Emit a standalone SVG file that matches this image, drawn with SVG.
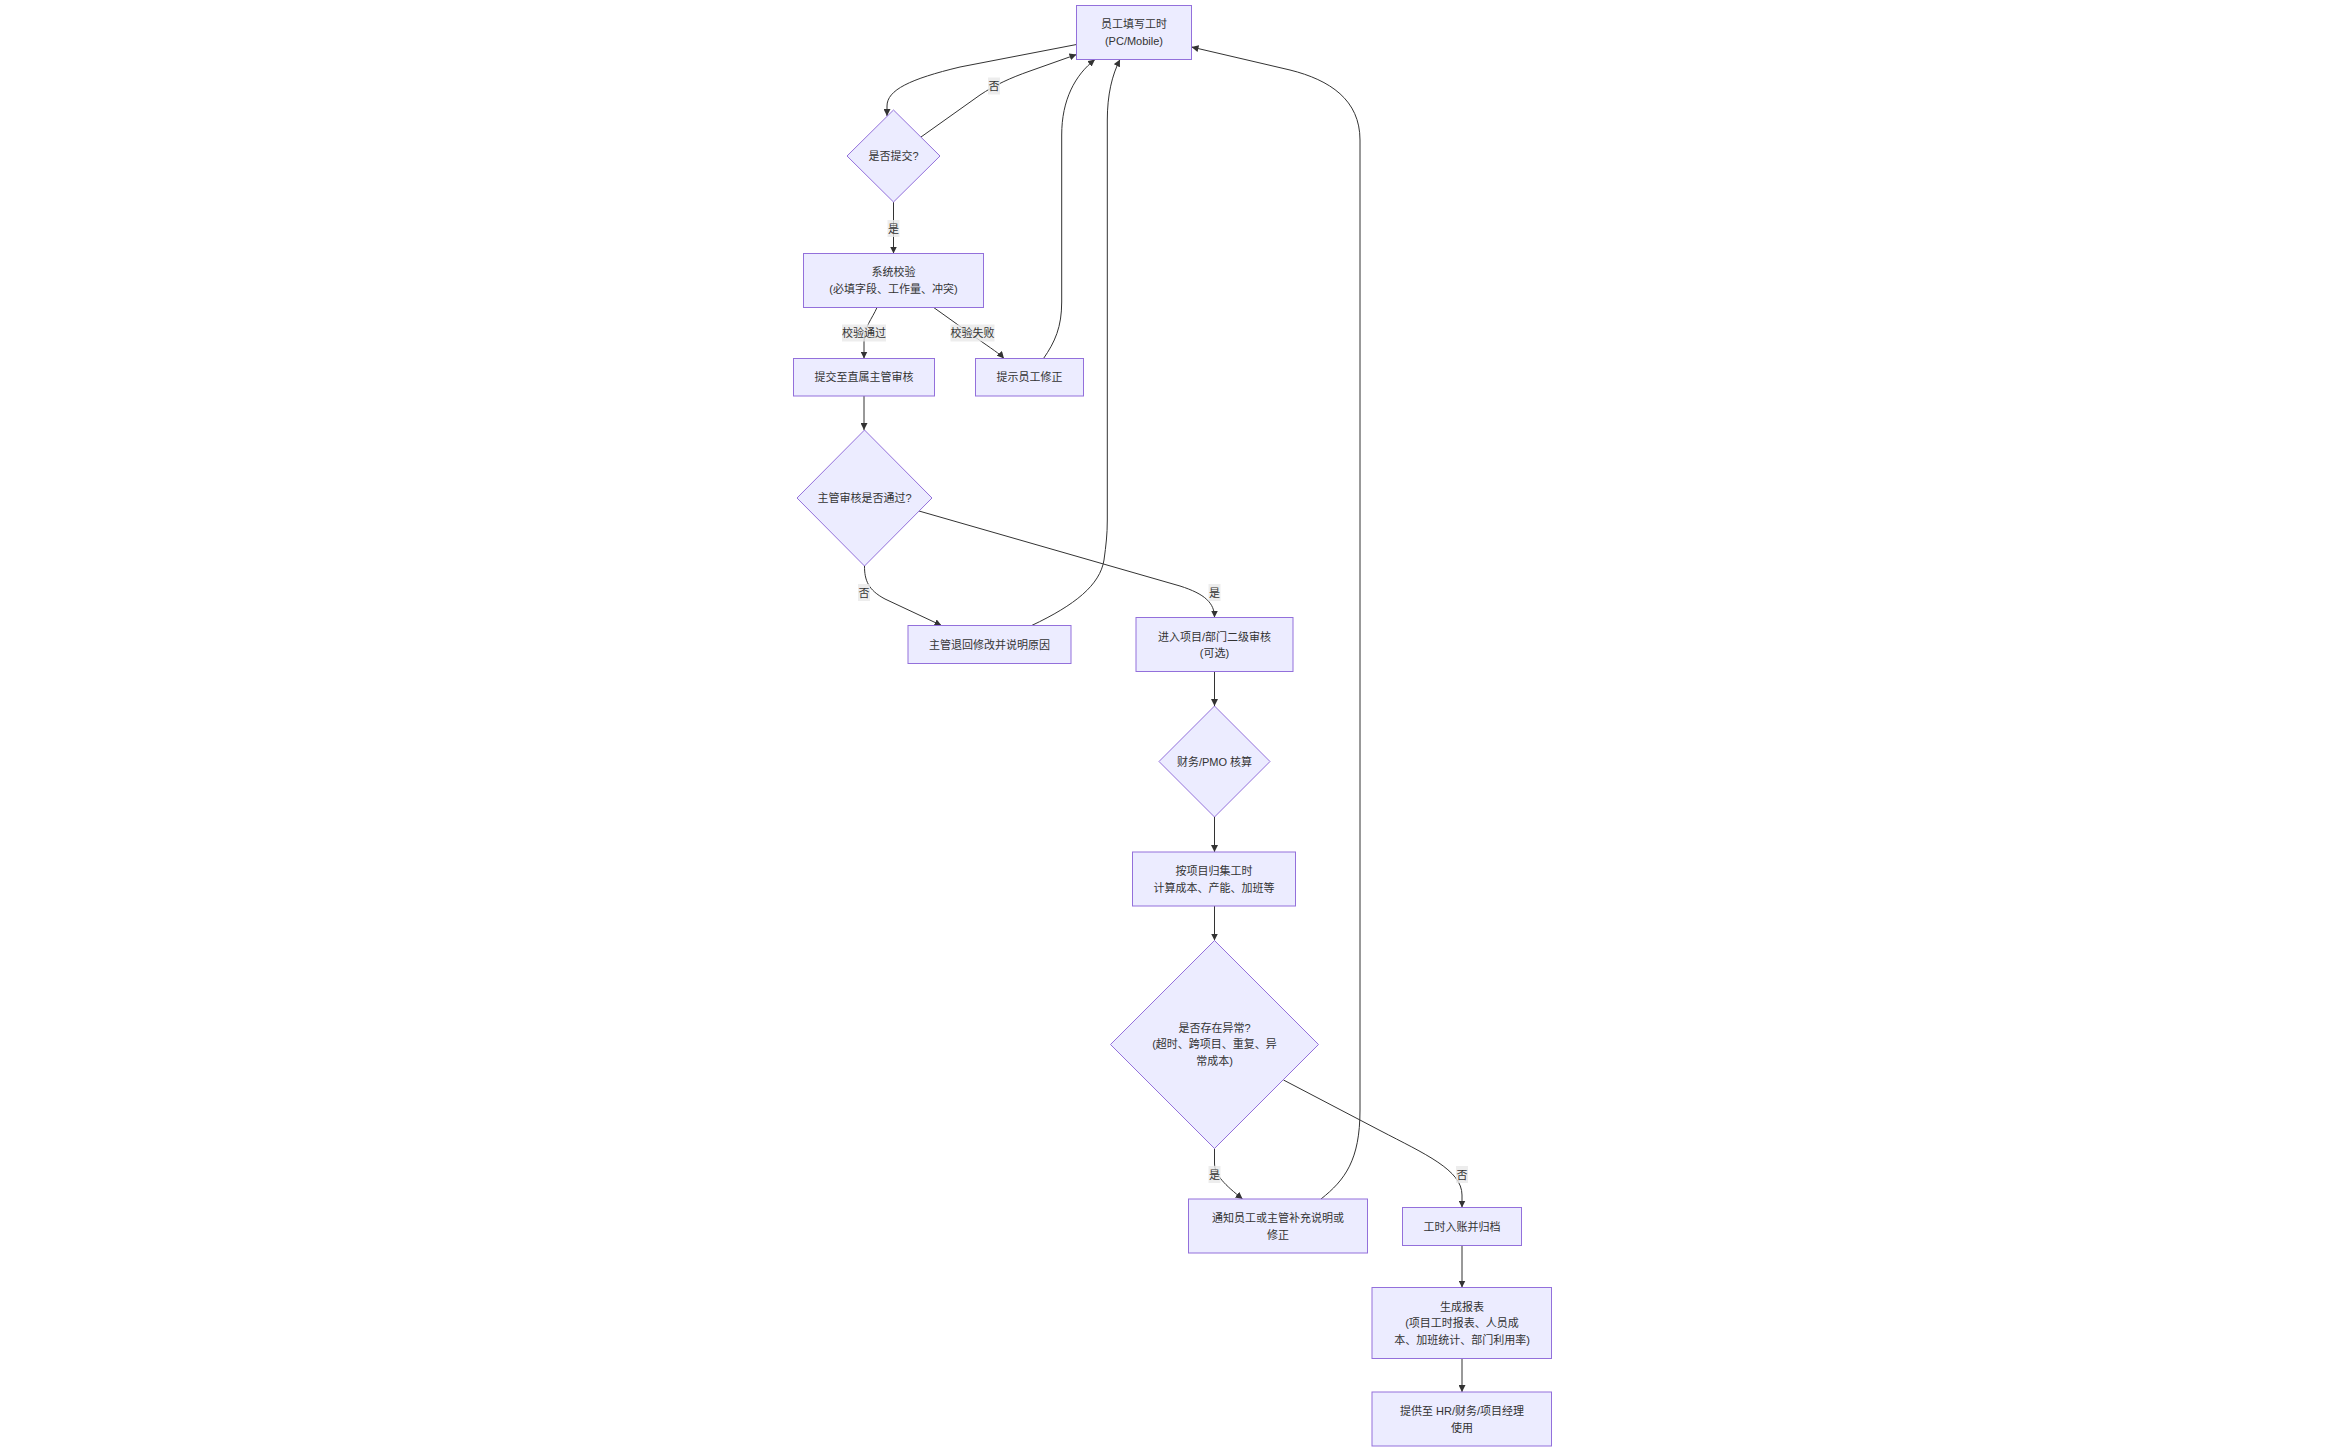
<svg xmlns="http://www.w3.org/2000/svg" width="2345" height="1452" viewBox="0 0 2345 1452">
<style>
.node rect,.node polygon{fill:#ECECFF;stroke:#9370DB;stroke-width:1}
text{font-family:"Liberation Sans","Noto Sans CJK SC",sans-serif;font-size:11px;fill:#333;text-anchor:middle}
.edge{fill:none;stroke:#333;stroke-width:1;marker-end:url(#arrow)}
.lbl rect{fill:#e8e8e8;opacity:0.8}
</style>
<defs>
<marker id="arrow" viewBox="0 0 10 10" refX="10" refY="5" markerUnits="userSpaceOnUse" markerWidth="7" markerHeight="7" orient="auto">
<path d="M0,0 L10,5 L0,10 z" fill="#333"/>
</marker>
</defs>
<rect width="2345" height="1452" fill="#fff"/>
<g id="edges">
<path class="edge" d="M1076.5,44.5 L960,67 C910,79 887,90 887,106 L887,116"/>
<path class="edge" d="M921,137 L980,95 C995,85 1010,78 1030,71 L1076.5,54.5"/>
<path class="edge" d="M893.5,202 L893.5,253.5"/>
<path class="edge" d="M877,307.5 C872,319 864,327 864,342 L864,358.5"/>
<path class="edge" d="M933.7,307.5 L975,337 C992,349 1000,354 1004,358.5"/>
<path class="edge" d="M1043.5,358.5 C1055,342 1061.7,327 1061.7,302 L1061.7,135 C1061.7,100 1075,75 1095,59.5"/>
<path class="edge" d="M864,396 L864,430"/>
<path class="edge" d="M864.5,566 C864.5,580 868,590 885,599 L941.5,625.5"/>
<path class="edge" d="M919,511 L1180,586 C1205,594 1214.5,603 1214.5,617.5"/>
<path class="edge" d="M1031.7,625.5 C1075,605 1100,585 1104,560 C1106,545 1107.3,535 1107.3,520 L1107.3,120 C1107.3,95 1112,75 1120,59.5"/>
<path class="edge" d="M1214.5,671.5 L1214.5,706"/>
<path class="edge" d="M1214.5,817 L1214.5,852"/>
<path class="edge" d="M1214.5,906 L1214.5,940.5"/>
<path class="edge" d="M1214.5,1148.5 L1214.5,1163 C1214.5,1175 1225,1185 1242.6,1199"/>
<path class="edge" d="M1283.5,1080 L1380,1130.5 C1425,1154 1462,1170 1462,1195 L1462,1207.5"/>
<path class="edge" d="M1321,1199 C1345,1180 1360,1160 1360,1110 L1360,140 C1360,100 1330,80 1290,70 L1191.5,47"/>
<path class="edge" d="M1462,1245.5 L1462,1287.5"/>
<path class="edge" d="M1462,1358.5 L1462,1392"/>
</g>
<g id="edge-labels">
<g class="lbl"><rect x="988" y="77.5" width="12" height="17"/><text x="994" y="90">否</text></g>
<g class="lbl"><rect x="887.5" y="220" width="12" height="17"/><text x="893.5" y="232.5">是</text></g>
<g class="lbl"><rect x="842" y="324.5" width="44" height="17"/><text x="864" y="337">校验通过</text></g>
<g class="lbl"><rect x="950.5" y="324.5" width="44" height="17"/><text x="972.5" y="337">校验失败</text></g>
<g class="lbl"><rect x="858" y="584" width="12" height="17"/><text x="864" y="596.5">否</text></g>
<g class="lbl"><rect x="1208.5" y="584" width="12" height="17"/><text x="1214.5" y="596.5">是</text></g>
<g class="lbl"><rect x="1208.5" y="1166" width="12" height="17"/><text x="1214.5" y="1178.5">是</text></g>
<g class="lbl"><rect x="1456" y="1166" width="12" height="17"/><text x="1462" y="1178.5">否</text></g>
</g>
<g id="nodes">
<g id="A" class="node"><rect x="1076.5" y="5.5" width="115" height="54"/><text x="1134" y="28">员工填写工时</text><text x="1134" y="44.5">(PC/Mobile)</text></g>
<g id="B" class="node"><polygon points="893.5,110 940,156 893.5,202 847,156"/><text x="893.5" y="160">是否提交?</text></g>
<g id="C" class="node"><rect x="803.5" y="253.5" width="180" height="54"/><text x="893.5" y="276">系统校验</text><text x="893.5" y="292.5">(必填字段、工作量、冲突)</text></g>
<g id="D" class="node"><rect x="793.5" y="358.5" width="141" height="37.5"/><text x="864" y="381">提交至直属主管审核</text></g>
<g id="E" class="node"><rect x="975.5" y="358.5" width="108" height="37.5"/><text x="1029.5" y="381">提示员工修正</text></g>
<g id="F" class="node"><polygon points="864.5,430 932,498 864.5,566 797,498"/><text x="864.5" y="502">主管审核是否通过?</text></g>
<g id="G" class="node"><rect x="908" y="625.5" width="163" height="38"/><text x="989.5" y="648.5">主管退回修改并说明原因</text></g>
<g id="H" class="node"><rect x="1136" y="617.5" width="157" height="54"/><text x="1214.5" y="640.5">进入项目/部门二级审核</text><text x="1214.5" y="657">(可选)</text></g>
<g id="I" class="node"><polygon points="1214.5,706 1270,761.5 1214.5,817 1159,761.5"/><text x="1214.5" y="765.5">财务/PMO 核算</text></g>
<g id="J" class="node"><rect x="1132.5" y="852" width="163" height="54"/><text x="1214" y="875">按项目归集工时</text><text x="1214" y="891.5">计算成本、产能、加班等</text></g>
<g id="K" class="node"><polygon points="1214.5,940.5 1318.5,1044.5 1214.5,1148.5 1110.5,1044.5"/><text x="1214.5" y="1031.5">是否存在异常?</text><text x="1214.5" y="1048">(超时、跨项目、重复、异</text><text x="1214.5" y="1064.5">常成本)</text></g>
<g id="L" class="node"><rect x="1188.5" y="1199" width="179" height="54"/><text x="1278" y="1222">通知员工或主管补充说明或</text><text x="1278" y="1238.5">修正</text></g>
<g id="M" class="node"><rect x="1402.5" y="1207.5" width="119" height="38"/><text x="1462" y="1230.5">工时入账并归档</text></g>
<g id="N" class="node"><rect x="1372" y="1287.5" width="179.5" height="71"/><text x="1462" y="1310.5">生成报表</text><text x="1462" y="1327">(项目工时报表、人员成</text><text x="1462" y="1343.5">本、加班统计、部门利用率)</text></g>
<g id="O" class="node"><rect x="1372" y="1392" width="179.5" height="54"/><text x="1462" y="1415">提供至 HR/财务/项目经理</text><text x="1462" y="1431.5">使用</text></g>
</g>
</svg>
